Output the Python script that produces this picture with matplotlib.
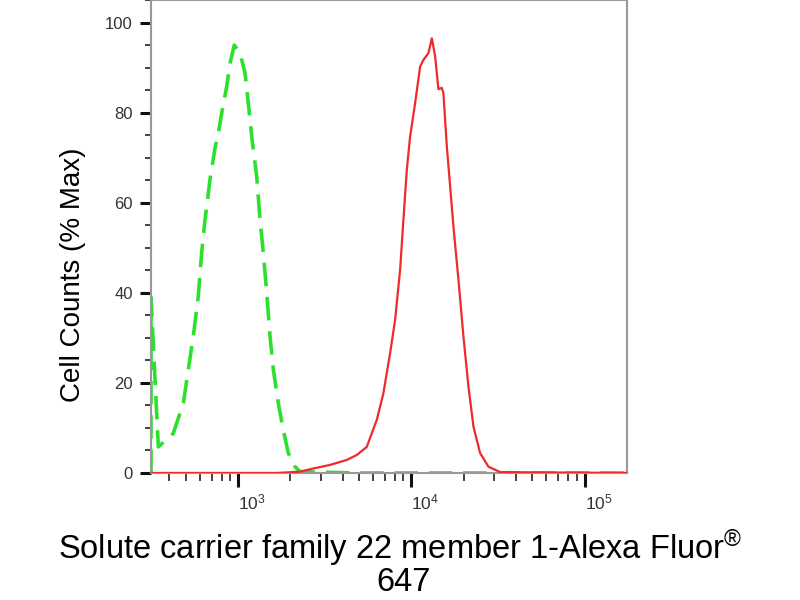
import numpy as np
import matplotlib
matplotlib.use("Agg")
import matplotlib.pyplot as plt
from matplotlib.ticker import LogLocator, MultipleLocator, NullFormatter

plt.rcParams["font.family"] = ["Liberation Sans", "DejaVu Sans"]
plt.rcParams["mathtext.fontset"] = "custom"
plt.rcParams["mathtext.rm"] = "Liberation Sans"
plt.rcParams["mathtext.it"] = "Liberation Sans:italic"

# control (isotype) histogram, green dashed
ctrl_x = [313, 313, 345, 421, 481, 514, 549, 587, 614, 642, 686, 733, 766, 802,
          857, 896, 948, 1023, 1093, 1142, 1195, 1277, 1335, 1395, 1460, 1525,
          1594, 1703, 1820, 1945, 2127, 2273, 5000, 30000, 176000]
ctrl_y = [0, 39, 5.8, 8.8, 15.5, 22.9, 30.3, 39.2, 48.9, 56.2, 65.1, 72.1, 75.4, 79.9,
          85.8, 91.0, 95.0, 93.2, 88.8, 82.1, 74.7, 65.8, 56.2, 48.8, 39.9, 30.3,
          22.9, 15.5, 9.5, 4.4, 1.4, 0.3, 0, 0, 0]

# stained sample histogram, red solid
smp_x = [313, 1667, 2273, 2714, 3389, 4233, 4835, 5523, 6310, 6888, 7533, 8051,
         8604, 8990, 9407, 9829, 10505, 11228, 11733, 12539, 13123, 13709, 14325,
         14985, 15310, 16017, 16740, 17491, 18697, 19980, 21355, 22826, 24955,
         27870, 32560, 176000]
smp_y = [0, 0, 0.3, 1.0, 1.8, 2.9, 4.0, 5.8, 11.8, 17.7, 26.6, 34.0,
         45.1, 56.2, 67.3, 74.7, 82.1, 90.2, 91.7, 93.2, 96.5, 92.5, 85.2,
         85.5, 84.3, 72.5, 63.6, 54.7, 42.9, 30.3, 19.2, 10.3, 4.4,
         1.4, 0.2, 0]

fig = plt.figure(figsize=(8, 6), dpi=100)
ax = fig.add_axes([151 / 800, 1 - 473 / 600, 476 / 800, 473 / 600])

ax.plot(ctrl_x, ctrl_y, color="#2ee02e", lw=2.6, dashes=(6.5, 3), zorder=2)
ax.plot(smp_x, smp_y, color="#ee2a2a", lw=1.6, zorder=3)

ax.set_xscale("log")
ax.set_xlim(313, 176000)
ax.set_ylim(0, 105)

ax.xaxis.set_major_locator(LogLocator(base=10, numticks=10))
ax.xaxis.set_minor_locator(LogLocator(base=10, subs=np.arange(2, 10), numticks=20))
ax.xaxis.set_minor_formatter(NullFormatter())
ax.yaxis.set_major_locator(MultipleLocator(20))
ax.yaxis.set_minor_locator(MultipleLocator(5))

ax.tick_params(axis="x", which="major", direction="out", length=10, width=2.2,
               pad=4, labelsize=12.5, colors="#111111", labelcolor="#333333")
ax.tick_params(axis="x", which="minor", direction="out", length=6, width=1.1,
               colors="#111111")
ax.tick_params(axis="y", which="major", direction="out", length=8, width=2.2,
               pad=5, labelsize=12, colors="#111111", labelcolor="#333333")
ax.tick_params(axis="y", which="minor", direction="out", length=4, width=1.1,
               colors="#111111")
for lab in ax.get_xticklabels():
    lab.set_horizontalalignment("left")

for s in ax.spines.values():
    s.set_color("#999999")
    s.set_linewidth(1.5)

fig.text(73 / 800, 1 - 275 / 600, "Cell Counts (% Max)", rotation=90,
         ha="center", va="center", fontsize=20)
fig.text(0.5, 1 - 559 / 600,
         "Solute carrier family 22 member 1-Alexa Fluor$^{®}$",
         ha="center", va="baseline", fontsize=23.5)
fig.text(0.505, 1 - 591 / 600, "647", ha="center", va="baseline", fontsize=23.5)

fig.savefig("out.png", dpi=100)
